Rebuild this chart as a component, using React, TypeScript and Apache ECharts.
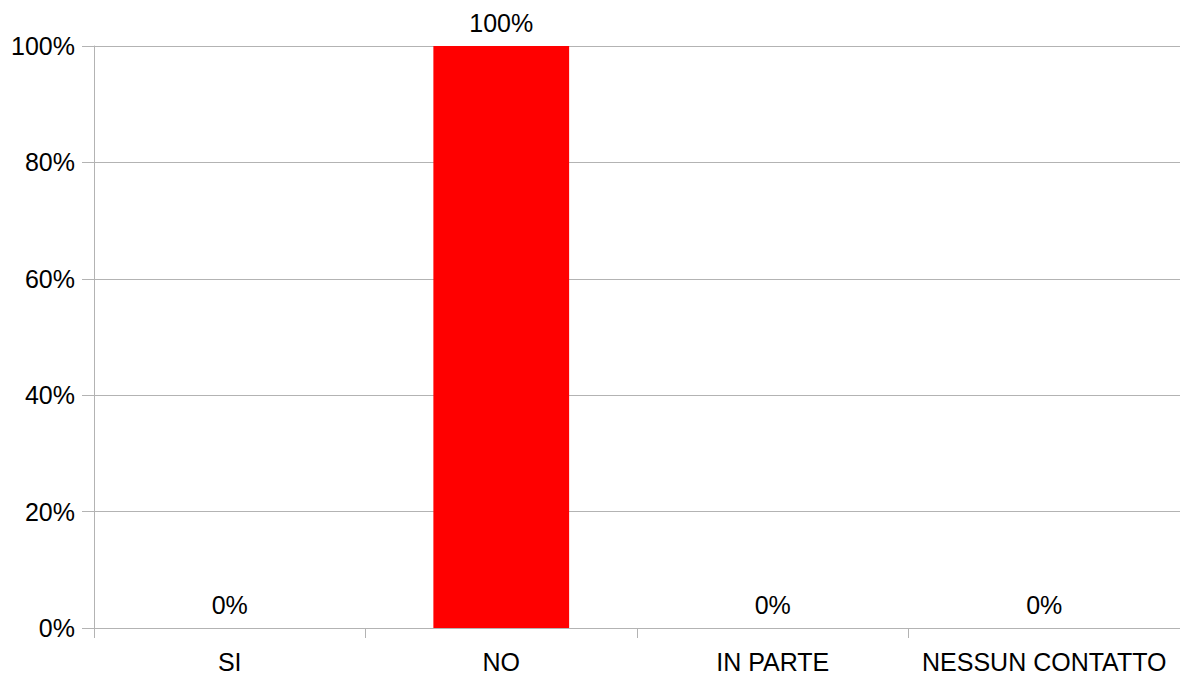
import React, { useEffect, useRef } from "react";
import * as echarts from "echarts";

const categories = ["SI", "NO", "IN PARTE", "NESSUN CONTATTO"];
const values = [0, 100, 0, 0];
const yTicks = [0, 20, 40, 60, 80, 100];

export default function App() {
  const ref = useRef<HTMLDivElement>(null);
  useEffect(() => {
    document.body.style.margin = "0";
    const chart = echarts.init(ref.current!, null, { renderer: "svg" });
    const font = "'Liberation Sans', Arial, sans-serif";
    chart.setOption({
      animation: false,
      grid: { left: 94, right: 0, top: 46, bottom: 47, containLabel: false },
      xAxis: {
        type: "category",
        data: categories,
        boundaryGap: true,
        axisLine: { show: true, lineStyle: { color: "#b3b3b3", width: 1 } },
        axisTick: { show: true, length: 10, interval: 0, lineStyle: { color: "#b3b3b3" } },
        axisLabel: {
          color: "#000",
          fontSize: 25,
          fontFamily: font,
          margin: 21,
          interval: 0,
          hideOverlap: false,
        },
      },
      yAxis: {
        type: "value",
        min: yTicks[0],
        max: yTicks[yTicks.length - 1],
        interval: 20,
        axisLine: { show: true, lineStyle: { color: "#b3b3b3", width: 1 } },
        axisTick: { show: true, length: 12, lineStyle: { color: "#b3b3b3" } },
        splitLine: { show: true, lineStyle: { color: "#b3b3b3", width: 1 } },
        axisLabel: {
          color: "#000",
          fontSize: 25,
          fontFamily: font,
          margin: 19,
          formatter: (v: number) => `${v}%`,
        },
      },
      series: [
        {
          type: "bar",
          data: values,
          barWidth: "50%",
          itemStyle: { color: "#ff0000" },
          label: {
            show: true,
            position: "top",
            distance: 11,
            color: "#000",
            fontSize: 25,
            fontFamily: font,
            formatter: (p: any) => `${p.value}%`,
          },
        },
      ],
    });
    return () => chart.dispose();
  }, []);
  return <div ref={ref} style={{ position: "absolute", left: 0, top: 0, width: 1180, height: 675 }} />;
}
